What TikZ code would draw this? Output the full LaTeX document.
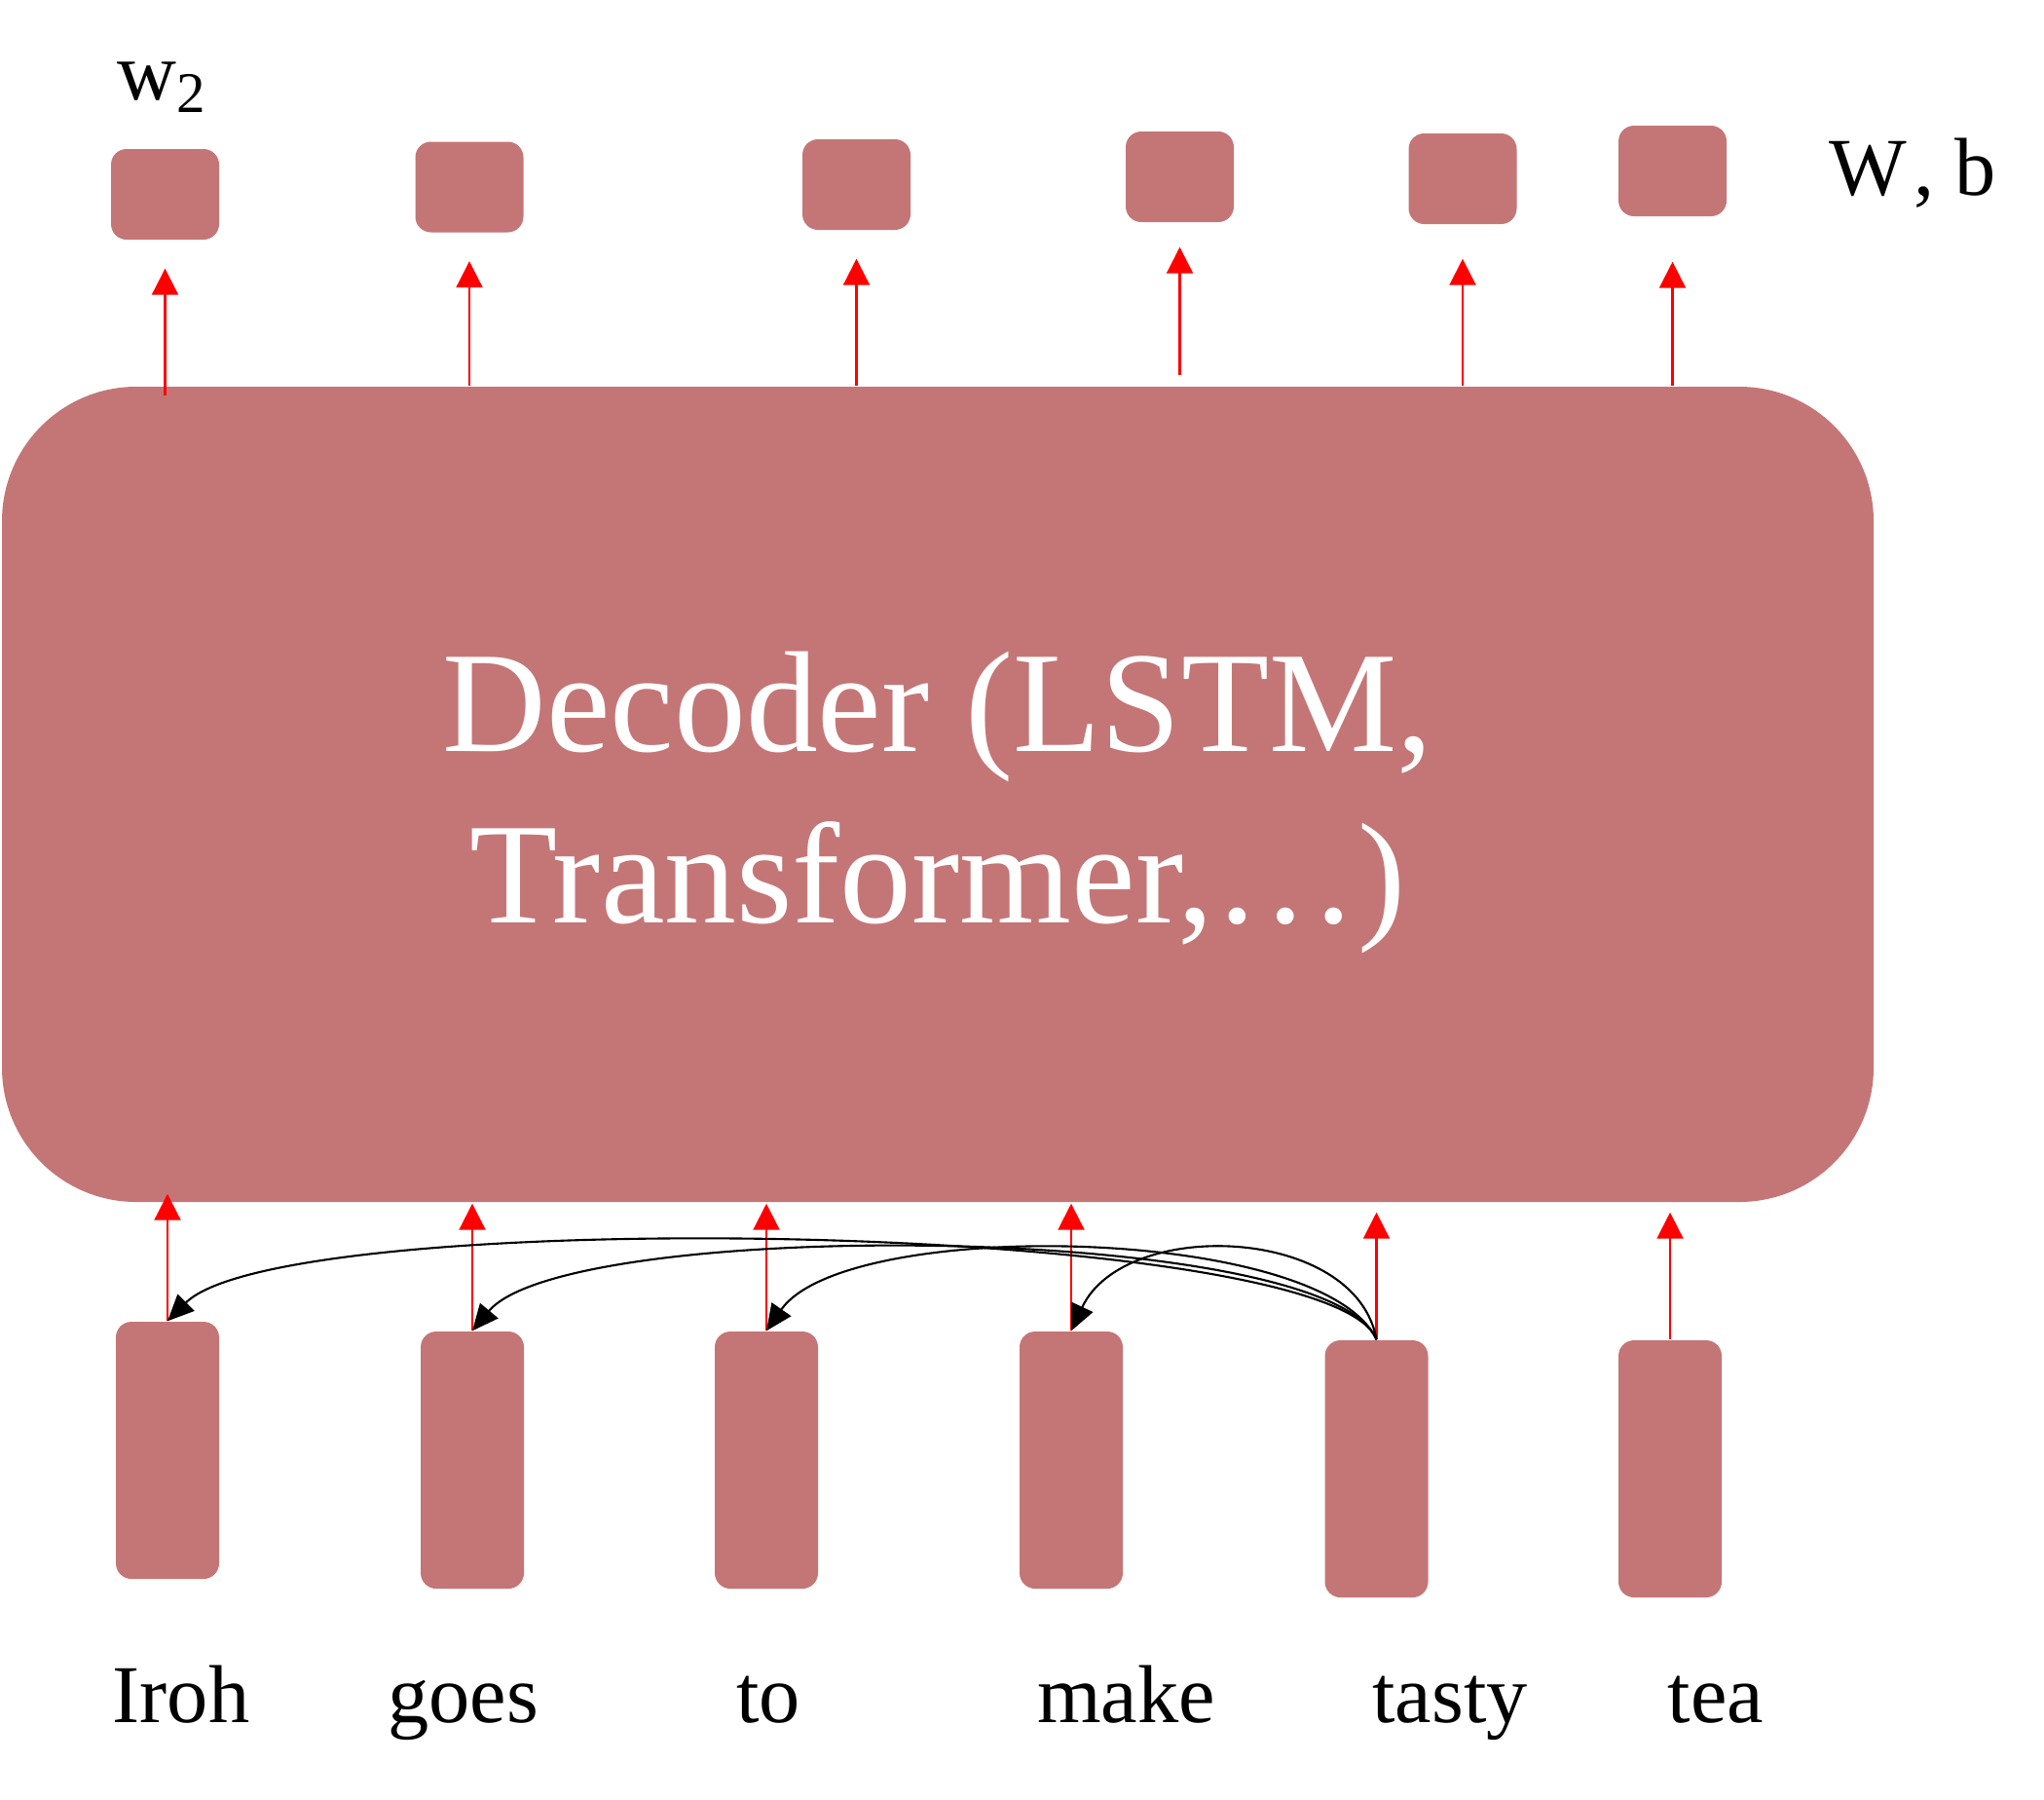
\documentclass[tikz,border=0pt]{standalone}
\usepackage{fontspec}
\setmainfont{Liberation Serif}
\usetikzlibrary{positioning}
\usetikzlibrary{arrows.meta}
\definecolor{rose}{RGB}{196,118,118}

\begin{document}
\begin{tikzpicture}[every node/.style={font=\fontsize{24}{28}\selectfont},
    block/.style={fill=rose, inner sep=0pt, rounded corners=0.16cm},
    wbox/.style={block, minimum width=1.11cm, minimum height=0.93cm},
    xbox/.style={block, minimum width=1.06cm, minimum height=2.64cm},
    up/.style={red, line width=0.6pt, -{Triangle[length=0.27cm, width=0.27cm]}},
    attn/.style={black, line width=0.6pt, -{Triangle[length=0.27cm, width=0.24cm]}}]
    \useasboundingbox (0,0) rectangle (20.99,-18.47);

    \node[block, rounded corners=1.38cm, minimum width=19.22cm, minimum height=8.37cm,
          text=white, align=center, font=\fontsize{42}{50}\selectfont]
          (dec) at (9.63,-8.155) {\rule{0pt}{34pt}Decoder (LSTM,\\Transformer,\ldots)};

    % output boxes
    \foreach \i/\x/\y/\s/\g in {1/1.695/1.995/-0.1cm/0.29cm, 2/4.82/1.92/0cm/0.29cm,
                                3/8.795/1.895/0cm/0.29cm, 4/12.115/1.815/0.11cm/0.25cm,
                                5/15.02/1.835/0cm/0.35cm, 6/17.175/1.755/0cm/0.46cm} {
        \node[wbox] (w\i) at (\x,-\y) {};
        \draw[up, shorten <=\s, shorten >=\g] (dec.north -| w\i) -- (w\i.south);
    }
    \node[anchor=base] (wlab) at (1.665,-1.02) {w\textsubscript{2}};
    \node[anchor=base] (wblab) at (19.64,-2.00) {W\kern0.08em, b};

    % input boxes
    \foreach \i/\x/\y/\g in {1/1.72/14.89/-0.09cm, 2/4.85/14.99/0.01cm, 3/7.87/14.99/0.01cm,
                             4/11.00/14.99/0.01cm, 5/14.135/15.08/0.1cm, 6/17.15/15.08/0.1cm} {
        \node[xbox] (x\i) at (\x,-\y) {};
        \draw[up, shorten >=\g] (x\i.north) -- (x\i.north |- dec.south);
    }
    \foreach \i/\x/\w in {1/1.86/Iroh, 2/4.755/goes, 3/7.89/to, 4/11.565/make, 5/14.89/tasty, 6/17.62/tea} {
        \node[anchor=base] (word\i) at (\x,-17.68) {\w};
    }

    % attention from tasty
    \draw[attn] (x5.north) to[out=110, in=45, out distance=1.3cm, in distance=1.7cm] (x1.north);
    \draw[attn] (x5.north) to[out=112, in=50, out distance=1.3cm, in distance=1.53cm] (x2.north);
    \draw[attn] (x5.north) to[out=115, in=55, out distance=1.3cm, in distance=1.43cm] (x3.north);
    \draw[attn] (x5.north) to[out=100, in=65, out distance=1.19cm, in distance=1.29cm] (x4.north);
\end{tikzpicture}
\end{document}
